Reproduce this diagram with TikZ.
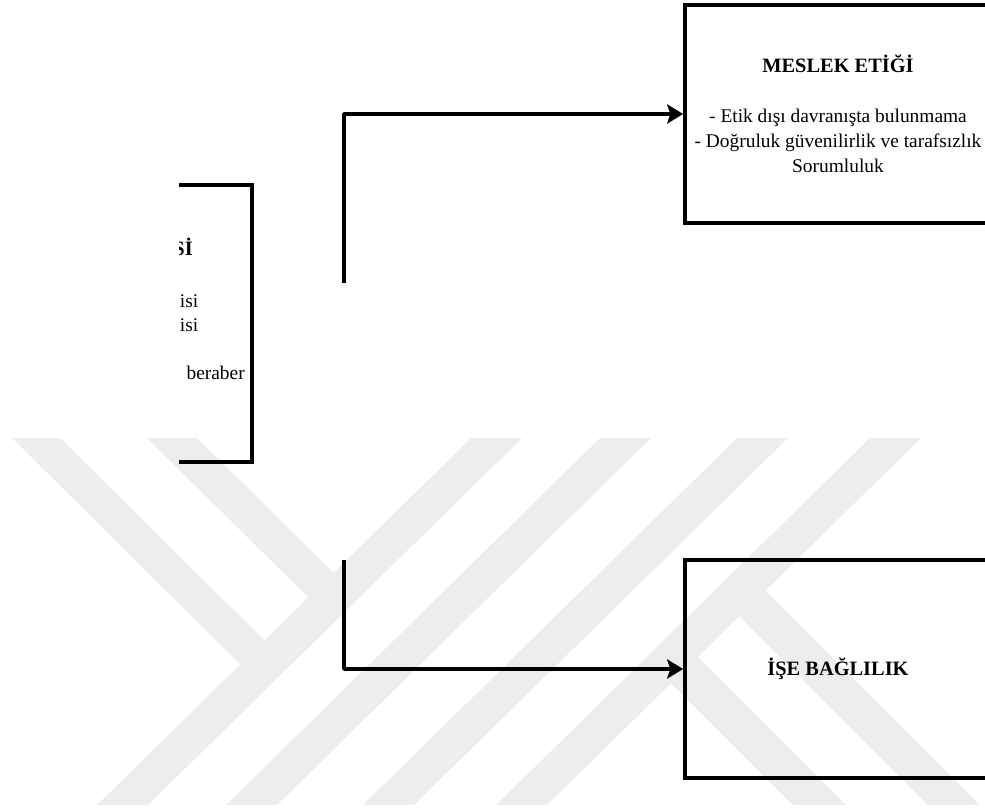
\documentclass[tikz,border=0pt]{standalone}
\usepackage{fontspec}
\setmainfont{Liberation Serif}
\usetikzlibrary{arrows.meta}
\definecolor{wmgray}{RGB}{237,237,237}

\begin{document}
\begin{tikzpicture}[x=0.025cm, y=-0.025cm, >={Stealth[length=4mm,width=4.8mm,inset=0.8mm]}]
    \tikzstyle{box}=[draw, line width=2.6pt, minimum width=7.65cm, minimum height=5.45cm, align=center, font=\fontsize{13.8}{17.8}\selectfont]
    \tikzstyle{txt}=[anchor=base east, inner sep=0pt, font=\fontsize{13.8}{17.8}\selectfont]
    \tikzstyle{conn}=[line width=2.6pt, line join=round]
    \tikzstyle{wm}=[fill=wmgray]
  \useasboundingbox (0,0) rectangle (985,811);

  %% watermark
  \begin{scope}
    \clip (0,438) rectangle (985,804);
    \foreach \l in {471,600,737,870}
      \fill[wm] (\l,438) -- (\l+51,438) -- (\l+51-377,808) -- (\l-377,808) -- cycle;
    \fill[wm] (12,438) -- (60,438) -- (284,660) -- (260,684) -- cycle;
    \fill[wm] (147,438) -- (197,438) -- (354,593) -- (329,618) -- cycle;
    \fill[wm] (752,577) -- (1005,830) -- (953,830) -- (725,602) -- cycle;
    \fill[wm] (683,642) -- (871,830) -- (818,830) -- (656,668) -- cycle;
  \end{scope}

  %% left box (cut by the page)
  \begin{scope}
    \clip (179,0) rectangle (985,811);
    \node (kisi) at (99,323.5) [box, minimum height=6.925cm] {};
    \node (kisihead) at (193,255) [txt, font=\fontsize{14.5}{17.8}\selectfont\bfseries] {Sİ};
    \node (kisi1) at (198.5,307) [txt] {isi};
    \node (kisi2) at (198.5,331) [txt] {isi};
    \node (kisi3) at (245,379) [txt] {beraber};
  \end{scope}

  \node (meslek) at (838,114) [box] {\textbf{\fontsize{14.5}{17.8}\selectfont MESLEK ETİĞİ}\\[18pt]
    - Etik dışı davranışta bulunmama\\
    - Doğruluk güvenilirlik ve tarafsızlık\\
    Sorumluluk};
  \node (bag) at (838,669) [box] {\textbf{\fontsize{14.5}{17.8}\selectfont İŞE BAĞLILIK}};

  \coordinate (up) at (344,283); % free end
  \coordinate (down) at (344,560); % free end
  \draw[conn,->] (up) |- (meslek.west);
  \draw[conn,->] (down) |- (bag.west);
\end{tikzpicture}
\end{document}
